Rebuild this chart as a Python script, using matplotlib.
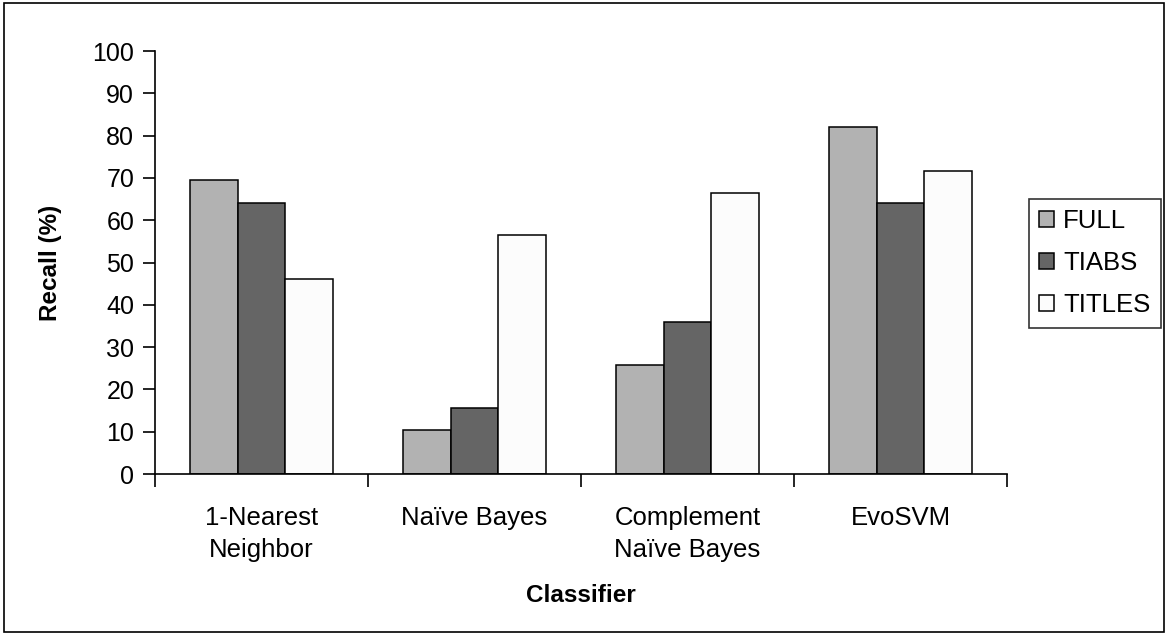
import matplotlib.pyplot as plt
import numpy as np
from matplotlib.patches import Rectangle

plt.rcParams['font.family'] = ['Liberation Sans', 'DejaVu Sans']

classifiers = ['1-Nearest\nNeighbor', 'Naïve Bayes', 'Complement\nNaïve Bayes', 'EvoSVM']
series = ['FULL', 'TIABS', 'TITLES']
full = [69.4, 10.3, 25.8, 82.0]
tiabs = [64.1, 15.6, 35.9, 64.1]
titles = [46.1, 56.5, 66.4, 71.7]
colors = ['#b2b2b2', '#656565', '#fcfcfc']

fig = plt.figure(figsize=(11.68, 6.35), dpi=100)
ax = fig.add_axes([155 / 1168, 161 / 635, 852 / 1168, 423 / 635])

x = np.arange(len(classifiers))
w = 0.224
for i, (name, vals) in enumerate(zip(series, [full, tiabs, titles])):
    ax.bar(x + (i - 1) * w, vals, w, color=colors[i], edgecolor='black',
           linewidth=1.1, label=name)

ax.set_xlim(-0.5, 3.5)
ax.set_ylim(0, 100)
ax.set_yticks(range(0, 101, 10))
ax.set_xticks(x)
ax.set_xticklabels(classifiers, fontsize=18.5, linespacing=1.4)
ax.set_xticks(np.arange(-0.5, 4, 1), minor=True)
ax.tick_params(axis='x', which='major', length=0, pad=23)
ax.tick_params(axis='x', which='minor', length=9, width=1.2, direction='out')
ax.tick_params(axis='y', length=9, width=1.2, labelsize=18, pad=6)
for s in ['top', 'right']:
    ax.spines[s].set_visible(False)
for s in ['left', 'bottom']:
    ax.spines[s].set_linewidth(1.2)

ax.set_ylabel('Recall (%)', fontsize=17.5, fontweight='bold', labelpad=22)
ax.set_xlabel('Classifier', fontsize=17.5, fontweight='bold', labelpad=16)

leg = ax.legend(loc='upper left', bbox_to_anchor=(1029 / 1168, 1 - 199 / 635),
                bbox_transform=fig.transFigure, fontsize=18.5, frameon=True,
                fancybox=False, edgecolor='black', handlelength=0.58,
                handleheight=0.58, handletextpad=0.35, borderpad=0.4,
                labelspacing=0.7, borderaxespad=0)
leg.get_frame().set_linewidth(1.2)

fig.patches.append(Rectangle((0.003, 0.004), 0.994, 0.992, transform=fig.transFigure,
                             fill=False, edgecolor='black', linewidth=1.2))

fig.savefig('out.png', dpi=100)
